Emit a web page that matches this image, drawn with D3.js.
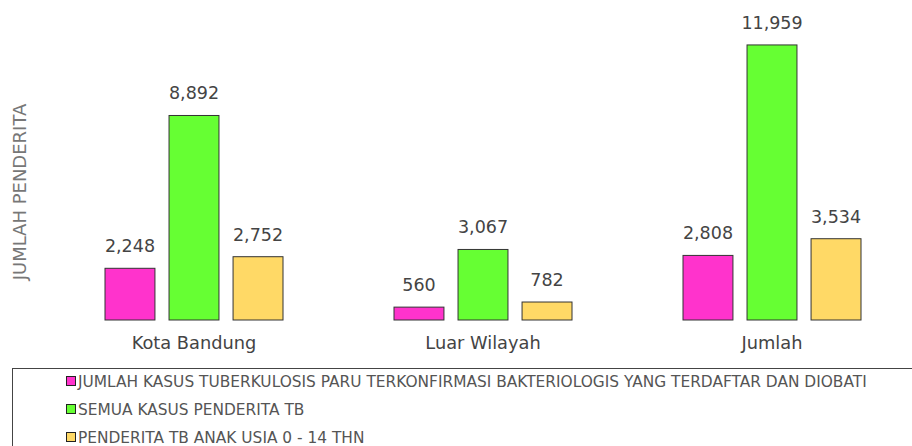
<!DOCTYPE html>
<html>
<head>
<meta charset="utf-8">
<script src="https://d3js.org/d3.v7.min.js"></script>
<style>
  body { margin: 0; background: #fff; }
  svg { display: block; font-family: "DejaVu Sans", sans-serif; }
</style>
</head>
<body>
<div id="chart"></div>
<script>
/* Data */
var categories = ["Kota Bandung", "Luar Wilayah", "Jumlah"];
var seriesNames = [
  "JUMLAH KASUS TUBERKULOSIS PARU TERKONFIRMASI BAKTERIOLOGIS YANG TERDAFTAR DAN DIOBATI",
  "SEMUA KASUS PENDERITA TB",
  "PENDERITA TB ANAK USIA 0 - 14 THN"
];
var confirmedValues = [2248, 560, 2808];
var allCasesValues = [8892, 3067, 11959];
var childValues = [2752, 782, 3534];
var seriesColors = ["#ff33cc", "#66ff33", "#ffd966"];
var yTitle = "JUMLAH PENDERITA";

var seriesValues = [confirmedValues, allCasesValues, childValues];

var width = 912, height = 446;
var svg = d3.select("#chart").append("svg")
  .attr("width", width)
  .attr("height", height);

// scales
var x0 = d3.scaleBand().domain(categories).range([49.5, 916.5]);
var x1 = d3.scaleBand().domain(d3.range(seriesNames.length))
  .range([0, 178]).paddingInner(0.22);
var y = d3.scaleLinear().domain([0, 13000]).range([320, 21]);

var groupOffset = (x0.bandwidth() - 178) / 2;

var groups = svg.append("g").selectAll("g")
  .data(categories)
  .join("g")
  .attr("transform", d => `translate(${x0(d) + groupOffset},0)`);

groups.selectAll("rect")
  .data((d, ci) => seriesValues.map((vals, si) => ({ si: si, v: vals[ci] })))
  .join("rect")
  .attr("x", d => x1(d.si))
  .attr("y", d => y(d.v))
  .attr("width", x1.bandwidth())
  .attr("height", d => y(0) - y(d.v))
  .attr("fill", d => seriesColors[d.si])
  .attr("stroke", "#333")
  .attr("stroke-width", 1);

groups.selectAll("text.val")
  .data((d, ci) => seriesValues.map((vals, si) => ({ si: si, v: vals[ci] })))
  .join("text")
  .attr("class", "val")
  .attr("x", d => x1(d.si) + x1.bandwidth() / 2)
  .attr("y", d => y(d.v) - 16)
  .attr("text-anchor", "middle")
  .attr("font-size", 17.5)
  .attr("fill", "#444")
  .text(d => d3.format(",")(d.v));

// x axis labels
var xAxis = svg.append("g")
  .attr("transform", "translate(0,320)")
  .call(d3.axisBottom(x0).tickSize(0).tickPadding(16));
xAxis.select(".domain").remove();
xAxis.selectAll("text")
  .attr("font-size", 17.8)
  .attr("fill", "#444")
  .attr("font-family", "DejaVu Sans, sans-serif");

// y title
svg.append("text")
  .attr("transform", "translate(26,192) rotate(-90)")
  .attr("text-anchor", "middle")
  .attr("font-size", 18)
  .attr("fill", "#777")
  .text(yTitle);

// legend
svg.append("rect")
  .attr("x", 12.5).attr("y", 368.5)
  .attr("width", 910).attr("height", 90)
  .attr("fill", "none")
  .attr("stroke", "#444");

var legend = svg.append("g").selectAll("g")
  .data(seriesNames)
  .join("g")
  .attr("transform", (d, i) => `translate(66,${381 + i * 28})`);

legend.append("rect")
  .attr("x", 0.5).attr("y", -4.5)
  .attr("width", 9).attr("height", 9)
  .attr("fill", (d, i) => seriesColors[i])
  .attr("stroke", "#222");

legend.append("text")
  .attr("x", 12)
  .attr("y", 5.5)
  .attr("font-size", 15.4)
  .attr("fill", "#555")
  .text(d => d);
</script>
</body>
</html>
